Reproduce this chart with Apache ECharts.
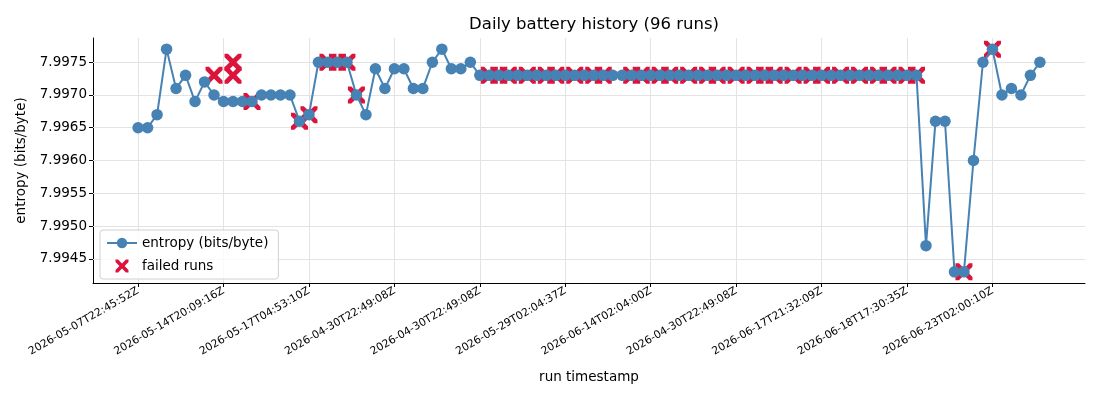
<!DOCTYPE html>
<html>
<head>
<meta charset="utf-8">
<script src="https://cdn.jsdelivr.net/npm/echarts@6/dist/echarts.min.js"></script>
<style>html,body{margin:0;padding:0;background:#fff;}#c{width:1100px;height:400px;}</style>
</head>
<body>
<div id="c"></div>
<script>
// run index positions of labelled ticks and their labels
const tickPositions = [0, 9, 18, 27, 36, 45, 54, 63, 72, 81, 90];
const tickLabels = [
  "2026-05-07T22:45:52Z", "2026-05-14T20:09:16Z", "2026-05-17T04:53:10Z",
  "2026-04-30T22:49:08Z", "2026-04-30T22:49:08Z", "2026-05-29T02:04:37Z",
  "2026-06-14T02:04:00Z", "2026-04-30T22:49:08Z", "2026-06-17T21:32:09Z",
  "2026-06-18T17:30:35Z", "2026-06-23T02:00:10Z"
];
const yTicks = [7.9945, 7.9950, 7.9955, 7.9960, 7.9965, 7.9970, 7.9975];

// entropy per run (96 runs)
const entropy = [
  7.9965, 7.9965, 7.9967, 7.9977, 7.9971, 7.9973, 7.9969, 7.9972, 7.9970, 7.9969,
  7.9969, 7.9969, 7.9969, 7.9970, 7.9970, 7.9970, 7.9970, 7.9966, 7.9967, 7.9975,
  7.9975, 7.9975, 7.9975, 7.9970, 7.9967, 7.9974, 7.9971, 7.9974, 7.9974, 7.9971,
  7.9971, 7.9975, 7.9977, 7.9974, 7.9974, 7.9975,
  7.9973, 7.9973, 7.9973, 7.9973, 7.9973, 7.9973, 7.9973, 7.9973, 7.9973, 7.9973,
  7.9973, 7.9973, 7.9973, 7.9973, 7.9973, 7.9973, 7.9973, 7.9973, 7.9973, 7.9973,
  7.9973, 7.9973, 7.9973, 7.9973, 7.9973, 7.9973, 7.9973, 7.9973, 7.9973, 7.9973,
  7.9973, 7.9973, 7.9973, 7.9973, 7.9973, 7.9973, 7.9973, 7.9973, 7.9973, 7.9973,
  7.9973, 7.9973, 7.9973, 7.9973, 7.9973, 7.9973, 7.9973,
  7.9947, 7.9966, 7.9966, 7.9943, 7.9943, 7.9960, 7.9975, 7.9977, 7.9970, 7.9971,
  7.9970, 7.9973, 7.9975
];

// failed runs: run index and entropy value
const failedIdx = [8, 10, 10, 12, 17, 18, 20, 21, 22, 23,
  37, 38, 39, 41, 43, 44, 46, 48, 49, 52, 53, 55, 56, 58, 60, 61, 63, 65, 66, 67,
  69, 71, 72, 74, 76, 78, 79, 81, 82, 87, 90];
const failedVal = [7.9973, 7.9975, 7.9973, 7.9969, 7.9966, 7.9967, 7.9975, 7.9975, 7.9975, 7.9970,
  7.9973, 7.9973, 7.9973, 7.9973, 7.9973, 7.9973, 7.9973, 7.9973, 7.9973, 7.9973,
  7.9973, 7.9973, 7.9973, 7.9973, 7.9973, 7.9973, 7.9973, 7.9973, 7.9973, 7.9973,
  7.9973, 7.9973, 7.9973, 7.9973, 7.9973, 7.9973, 7.9973, 7.9973, 7.9973, 7.9943, 7.9977];

const lineData = entropy.map((v, i) => [i, v]);
const failedData = failedIdx.map((x, i) => [x, failedVal[i]]);

const xPath = 'path://M0,0 L2,0 L5,3 L8,0 L10,0 L10,2 L7,5 L10,8 L10,10 L8,10 L5,7 L2,10 L0,10 L0,8 L3,5 L0,2 Z';
const font = 'DejaVu Sans';
const gridColor = '#e3e3e3';

const chart = echarts.init(document.getElementById('c'), null, {renderer: 'canvas'});
chart.setOption({
  animation: false,
  backgroundColor: '#fff',
  textStyle: {fontFamily: font},
  title: {
    text: 'Daily battery history (96 runs)',
    left: 589, top: 11, textAlign: 'center',
    textStyle: {fontFamily: font, fontSize: 16.5, fontWeight: 'normal', color: '#000'}
  },
  legend: {
    orient: 'vertical', left: 100, top: 230,
    padding: [6, 10, 6, 6], itemGap: 9, itemWidth: 30, itemHeight: 13,
    borderColor: '#d0d0d0', borderWidth: 1, borderRadius: 3,
    backgroundColor: 'rgba(255,255,255,0.8)',
    textStyle: {fontFamily: font, fontSize: 13.5, color: '#000'},
    data: [
      {name: 'entropy (bits/byte)'},
      {name: 'failed runs', icon: xPath, itemStyle: {color: '#dc143c', opacity: 1}}
    ]
  },
  grid: {left: 93, right: 15, top: 38, bottom: 117, containLabel: false},
  xAxis: {
    type: 'value', min: -4.75, max: 99.75,
    name: 'run timestamp', nameLocation: 'middle', nameGap: 87,
    nameTextStyle: {fontFamily: font, fontSize: 13.5, color: '#000'},
    axisLine: {show: true, onZero: false, lineStyle: {color: '#000', width: 1}},
    axisTick: {show: true, length: 4, customValues: tickPositions, lineStyle: {color: '#000'}},
    axisLabel: {
      customValues: tickPositions, rotate: 30, fontFamily: font, fontSize: 10.8, color: '#000', margin: 7,
      formatter: v => { const k = tickPositions.indexOf(Math.round(v)); return k >= 0 ? tickLabels[k] : ''; }
    },
    splitLine: {show: false}
  },
  yAxis: {
    type: 'value', min: 7.99413, max: 7.99787,
    name: 'entropy (bits/byte)', nameLocation: 'middle', nameGap: 65, nameRotate: 90,
    nameTextStyle: {fontFamily: font, fontSize: 13.5, color: '#000'},
    axisLine: {show: true, onZero: false, lineStyle: {color: '#000', width: 1}},
    axisTick: {show: true, length: 4, customValues: yTicks, lineStyle: {color: '#000'}},
    axisLabel: {customValues: yTicks, fontFamily: font, fontSize: 13.5, color: '#000', margin: 6,
      formatter: v => v.toFixed(4)},
    splitLine: {show: false}
  },
  series: [
    {
      name: 'failed runs', type: 'scatter', z: 2,
      symbol: xPath, symbolSize: 17,
      itemStyle: {color: '#dc143c', opacity: 1},
      data: failedData,
      markLine: {
        silent: true, symbol: 'none', label: {show: false}, z: 1,
        lineStyle: {color: gridColor, width: 1, type: 'solid'},
        data: yTicks.map(y => [{coord: [-4.75, y]}, {coord: [99.75, y]}])
      }
    },
    {
      name: 'entropy (bits/byte)', type: 'line', z: 3,
      symbol: 'circle', symbolSize: 11.5, showSymbol: true,
      lineStyle: {color: '#4682b4', width: 2},
      itemStyle: {color: '#4682b4'},
      data: lineData,
      markLine: {
        silent: true, symbol: 'none', label: {show: false}, z: 1,
        lineStyle: {color: gridColor, width: 1, type: 'solid'},
        data: tickPositions.map(x => [{coord: [x, 7.99413]}, {coord: [x, 7.99787]}])
      }
    }
  ]
});
</script>
</body>
</html>
